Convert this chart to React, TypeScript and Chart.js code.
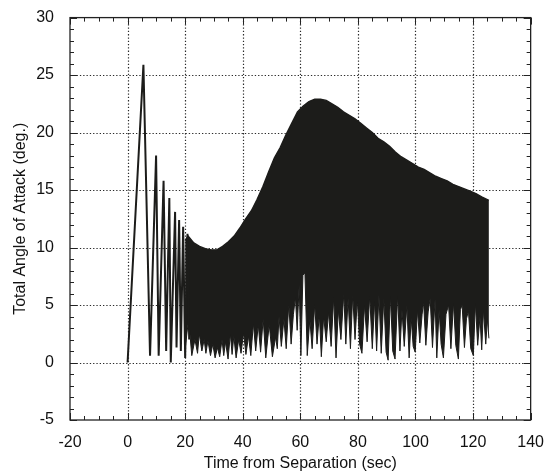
import React, { useEffect, useRef } from "react";
import { Chart, registerables } from "chart.js";

Chart.register(...registerables);

// Axis tick labels
const xTickValues = [-20, 0, 20, 40, 60, 80, 100, 120, 140];
const yTickValues = [-5, 0, 5, 10, 15, 20, 25, 30];

// Early, resolved oscillation after separation (sec, deg)
const earlyTime = [0, 5.5, 7.8, 9.9, 10.8, 12.5, 13.4, 14.5, 15.0, 16.5, 17.0, 17.9, 18.5, 19.3, 20.0, 20.8, 21.4];
const earlyAngle = [0, 25.9, 0.6, 18.0, 0.6, 15.8, 1.0, 14.3, 0.0, 13.1, 1.3, 12.4, 1.0, 11.8, 0.4, 11.2, 2.0];

// Upper envelope of the dense oscillation band
const upperTime = [20, 21, 23, 25, 27, 29, 31, 33, 35, 37, 39, 41, 43, 45, 47, 49, 51, 53, 55, 57, 59, 61, 63, 65, 67, 69, 71, 73, 75, 77, 79, 81, 83, 85, 87, 89, 91, 93, 95, 97, 99, 101, 103, 105, 107, 109, 111, 113, 115, 117, 119, 121, 123, 125.5];
const upperAngle = [10.6, 11.0, 10.4, 10.1, 9.9, 9.8, 9.8, 10.1, 10.5, 11.0, 11.7, 12.5, 13.2, 14.2, 15.3, 16.6, 17.8, 18.7, 19.8, 20.8, 21.8, 22.3, 22.7, 22.9, 22.9, 22.8, 22.5, 22.2, 21.8, 21.5, 21.2, 20.8, 20.4, 20.0, 19.5, 19.2, 18.8, 18.3, 17.9, 17.6, 17.3, 17.0, 16.8, 16.5, 16.2, 16.0, 15.8, 15.5, 15.3, 15.1, 14.9, 14.7, 14.4, 14.1];

// Lower (ragged) edge of the dense oscillation band
const lowerTime = [20.0, 21.2, 22.3, 23.4, 24.3, 24.9, 25.8, 26.6, 27.2, 27.9, 28.8, 29.6, 30.4, 31.2, 32.0, 32.8, 33.4, 34.0, 34.9, 35.7, 36.3, 36.9, 37.7, 38.6, 39.4, 40.3, 41.1, 42.0, 42.8, 43.7, 44.5, 45.4, 46.2, 47.1, 48.0, 49.2, 50.3, 51.4, 52.0, 52.6, 53.4, 54.3, 55.1, 56.0, 56.8, 57.6, 58.3, 58.9, 59.6, 60.2, 60.9, 61.6, 62.4, 63.3, 64.1, 65.0, 65.8, 66.6, 67.3, 68.1, 69.0, 69.8, 70.7, 71.6, 72.4, 73.2, 74.1, 75.1, 75.8, 76.6, 77.4, 78.2, 79.0, 79.8, 80.6, 81.4, 82.3, 83.2, 84.1, 85.0, 85.8, 86.5, 87.3, 88.1, 89.0, 89.8, 90.5, 91.3, 92.1, 92.9, 93.8, 94.6, 95.3, 96.1, 97.0, 97.8, 98.5, 99.2, 99.9, 100.7, 101.5, 102.3, 102.8, 103.6, 104.4, 105.1, 105.9, 106.8, 107.4, 108.2, 108.9, 109.7, 110.6, 111.5, 112.3, 113.2, 114.0, 114.9, 115.6, 116.2, 117.0, 117.7, 118.4, 119.2, 120.1, 120.8, 121.6, 122.4, 123.0, 123.6, 124.4, 125.0, 125.5];
const lowerAngle = [1.2, 3.8, 0.6, 2.0, 0.8, 2.5, 1.0, 2.0, 0.8, 1.9, 0.6, 1.6, 0.4, 1.3, 0.5, 2.0, 0.6, 1.8, 0.3, 2.5, 0.7, 2.3, 0.4, 2.0, 0.8, 2.6, 0.7, 2.3, 0.6, 3.4, 1.0, 3.3, 0.9, 3.8, 0.4, 3.3, 0.5, 2.2, 1.2, 4.0, 1.4, 3.8, 1.2, 5.1, 1.6, 4.2, 5.7, 2.8, 6.8, 0.6, 7.6, 7.8, 0.6, 3.8, 1.2, 5.1, 1.6, 4.2, 0.5, 4.0, 1.8, 4.4, 1.4, 5.7, 0.4, 4.6, 2.0, 6.0, 1.6, 5.6, 1.2, 5.9, 2.0, 5.5, 1.6, 0.8, 5.0, 1.8, 5.8, 1.2, 5.4, 1.0, 5.9, 0.8, 5.6, 0.9, 0.2, 5.8, 1.0, 0.3, 5.9, 1.0, 4.6, 1.4, 5.0, 0.4, 3.9, 1.4, 0.9, 4.6, 1.7, 4.2, 5.3, 1.5, 4.4, 5.6, 1.3, 5.5, 0.4, 4.6, 1.6, 0.4, 4.2, 5.0, 1.2, 5.2, 1.5, 0.3, 4.6, 5.0, 1.3, 3.8, 4.5, 1.2, 0.6, 5.2, 1.5, 4.0, 1.1, 4.6, 1.6, 3.8, 2.1];

const FONT = "'Liberation Sans', Arial, Helvetica, sans-serif";
const INK = "#1c1c1a";

function toPoints(ts: number[], vs: number[]) {
  return ts.map((t, i) => ({ x: t, y: vs[i] }));
}

const framePlugin = {
  id: "framePlugin",
  beforeDatasetsDraw(chart: any) {
    const { ctx, chartArea: a, scales } = chart;
    const x = scales.x;
    const y = scales.y;
    ctx.save();
    ctx.strokeStyle = "#2a2a2a";
    ctx.lineWidth = 1.2;
    ctx.setLineDash([1.3, 2.0]);
    xTickValues.forEach((v) => {
      if (v > x.min && v < x.max) {
        const px = Math.round(x.getPixelForValue(v)) + 0.5;
        ctx.beginPath();
        ctx.moveTo(px, a.top);
        ctx.lineTo(px, a.bottom);
        ctx.stroke();
      }
    });
    yTickValues.forEach((v) => {
      if (v > y.min && v < y.max) {
        const py = Math.round(y.getPixelForValue(v)) + 0.5;
        ctx.beginPath();
        ctx.moveTo(a.left, py);
        ctx.lineTo(a.right, py);
        ctx.stroke();
      }
    });
    ctx.restore();
  },
  afterDatasetsDraw(chart: any) {
    const { ctx, chartArea: a, scales } = chart;
    const x = scales.x;
    const y = scales.y;
    ctx.save();
    ctx.strokeStyle = "#222";
    ctx.lineWidth = 1.3;
    ctx.setLineDash([]);
    ctx.strokeRect(a.left, a.top, a.right - a.left, a.bottom - a.top);
    ctx.lineWidth = 1;
    for (let v = x.min; v <= x.max; v += 5) {
      const px = Math.round(x.getPixelForValue(v)) + 0.5;
      const len = v % 20 === 0 ? 7 : 4;
      ctx.beginPath();
      ctx.moveTo(px, a.bottom);
      ctx.lineTo(px, a.bottom - len);
      ctx.moveTo(px, a.top);
      ctx.lineTo(px, a.top + len);
      ctx.stroke();
    }
    for (let v = y.min; v <= y.max; v += 1) {
      const py = Math.round(y.getPixelForValue(v)) + 0.5;
      const len = v % 5 === 0 ? 7 : 4;
      ctx.beginPath();
      ctx.moveTo(a.left, py);
      ctx.lineTo(a.left + len, py);
      ctx.moveTo(a.right, py);
      ctx.lineTo(a.right - len, py);
      ctx.stroke();
    }
    ctx.restore();
  },
};

export default function App() {
  const ref = useRef<HTMLCanvasElement | null>(null);

  useEffect(() => {
    if (!ref.current) return;
    const chart = new Chart(ref.current, {
      type: "line",
      data: {
        datasets: [
          {
            label: "early",
            data: toPoints(earlyTime, earlyAngle),
            borderColor: INK,
            borderWidth: 2,
            pointRadius: 0,
            tension: 0,
            fill: false,
          },
          {
            label: "upper",
            data: toPoints(upperTime, upperAngle),
            borderColor: INK,
            backgroundColor: INK,
            borderWidth: 1.4,
            pointRadius: 0,
            tension: 0,
            fill: "+1",
          },
          {
            label: "lower",
            data: toPoints(lowerTime, lowerAngle),
            borderColor: INK,
            borderWidth: 1,
            pointRadius: 0,
            tension: 0,
            fill: false,
          },
        ],
      },
      options: {
        animation: false,
        responsive: false,
        devicePixelRatio: 1,
        events: [],
        layout: { padding: { left: 0, right: 14, top: 17, bottom: 0 } },
        plugins: {
          legend: { display: false },
          tooltip: { enabled: false },
        },
        scales: {
          x: {
            type: "linear",
            min: -20,
            max: 140,
            offset: false,
            grid: { display: false, offset: false },
            border: { display: false },
            afterBuildTicks: (s: any) => {
              s.ticks = xTickValues.map((v) => ({ value: v }));
            },
            afterFit: (s: any) => {
              s.height = 54;
            },
            ticks: {
              color: "#111",
              font: { family: FONT, size: 16 },
              padding: 5,
              maxRotation: 0,
              autoSkip: false,
            },
            title: {
              display: true,
              text: "Time from Separation (sec)",
              color: "#111",
              font: { family: FONT, size: 16 },
              padding: { top: 0, bottom: 1 },
            },
          },
          y: {
            type: "linear",
            min: -5,
            max: 30,
            grid: { display: false },
            border: { display: false },
            afterBuildTicks: (s: any) => {
              s.ticks = yTickValues.map((v) => ({ value: v }));
            },
            afterFit: (s: any) => {
              s.width = 70;
            },
            ticks: {
              color: "#111",
              font: { family: FONT, size: 16 },
              padding: 8,
              autoSkip: false,
            },
            title: {
              display: true,
              text: "Total Angle of Attack (deg.)",
              color: "#111",
              font: { family: FONT, size: 16 },
              padding: { top: 11, bottom: 0 },
            },
          },
        },
      },
      plugins: [framePlugin],
    });
    return () => chart.destroy();
  }, []);

  return (
    <div style={{ position: "absolute", left: 0, top: 0, width: 549, height: 474, background: "#fff" }}>
      <canvas ref={ref} width={549} height={474} style={{ display: "block", width: 549, height: 474 }} />
    </div>
  );
}
